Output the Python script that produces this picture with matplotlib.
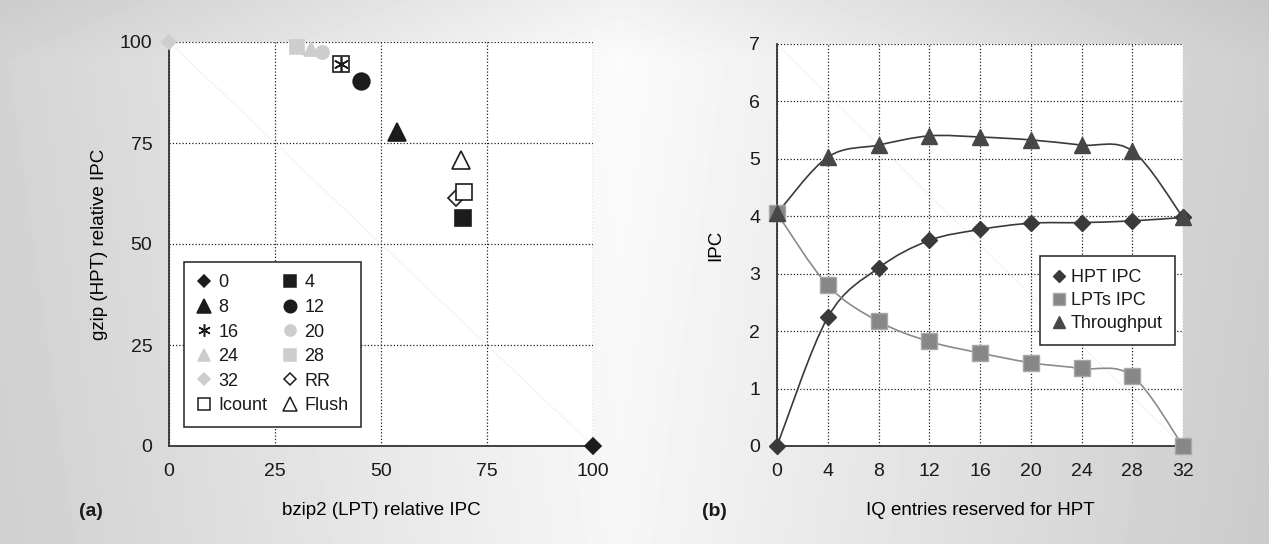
import numpy as np
import matplotlib
matplotlib.use('Agg')
import matplotlib.pyplot as plt
from matplotlib.lines import Line2D
from matplotlib.path import Path
from matplotlib.patches import PathPatch

# (a) relative IPC of bzip2 (LPT) and gzip (HPT) for each policy
policies = ['0', '4', '8', '12', '16', '20', '24', '28', '32', 'RR', 'Icount', 'Flush']
lpt_rel = [100, 69.4, 53.8, 45.2, 40.5, 36.2, 33.5, 30.1, 0, 67.8, 69.6, 68.8]
hpt_rel = [0, 56.5, 77.8, 90.3, 94.6, 97.6, 98.2, 98.7, 100, 61.4, 62.9, 70.7]
rel_ticks = [0, 25, 50, 75, 100]

# (b) IPC vs IQ entries reserved for HPT
iq_entries = [0, 4, 8, 12, 16, 20, 24, 28, 32]
hpt_ipc = [0, 2.24, 3.10, 3.58, 3.77, 3.88, 3.89, 3.92, 3.98]
lpt_ipc = [4.05, 2.80, 2.17, 1.82, 1.62, 1.45, 1.35, 1.22, 0]
throughput = [4.05, 5.03, 5.24, 5.40, 5.38, 5.33, 5.24, 5.14, 3.98]
ipc_ticks = [0, 1, 2, 3, 4, 5, 6, 7]

BLK = '#1c1c1c'
LGR = '#cdcdcd'
# marker, face, edge, size (plot), size (legend)
styles = {
    '0': ('D', BLK, BLK, 8.5, 6.5),
    '4': ('s', BLK, BLK, 12, 9),
    '8': ('^', BLK, BLK, 12.5, 9.5),
    '12': ('o', BLK, BLK, 12, 9),
    '16': ((6, 2, 0), BLK, BLK, 11, 9),
    '20': ('o', LGR, LGR, 9.5, 8),
    '24': ('^', LGR, LGR, 10, 9),
    '28': ('s', LGR, LGR, 10, 8.5),
    '32': ('D', LGR, LGR, 7, 6.5),
    'RR': ('D', 'white', BLK, 8, 6.5),
    'Icount': ('s', 'white', BLK, 12, 9),
    'Flush': ('^', 'white', BLK, 12.5, 9.5),
}


def smooth_path(xs, ys):
    # excel-like smoothed line (catmull-rom as cubic bezier)
    pts = np.column_stack([xs, ys]).astype(float)
    ext = np.vstack([pts[0], pts, pts[-1]])
    verts = [pts[0]]
    codes = [Path.MOVETO]
    for i in range(len(pts) - 1):
        p0, p1, p2, p3 = ext[i], ext[i + 1], ext[i + 2], ext[i + 3]
        verts += [p1 + (p2 - p0) / 6, p2 - (p3 - p1) / 6, p2]
        codes += [Path.CURVE4] * 3
    return Path(verts, codes)


plt.rcParams['font.family'] = ['Liberation Sans', 'DejaVu Sans']
plt.rcParams['text.color'] = '#1a1a1a'
plt.rcParams['xtick.color'] = '#1a1a1a'
plt.rcParams['ytick.color'] = '#1a1a1a'

fig = plt.figure(figsize=(12.69, 5.44), dpi=100)

# background gradient
bg = fig.add_axes([0, 0, 1, 1], zorder=-10)
cols = np.interp(np.arange(1269), [0, 620, 1269], [0.83, 0.985, 0.81])
rows = np.interp(np.arange(544), [0, 60, 544], [0.96, 1.0, 0.98])
grad = np.clip(np.outer(rows, cols), 0, 1)
bg.imshow(grad, cmap='gray', vmin=0, vmax=1, aspect='auto', extent=[0, 1, 0, 1])
bg.axis('off')


def style_axes(ax):
    ax.set_facecolor('white')
    for s in ['top', 'right']:
        ax.spines[s].set_visible(False)
    for s in ['left', 'bottom']:
        ax.spines[s].set_color('#333333')
        ax.spines[s].set_linewidth(1.3)
    ax.grid(True, linestyle=(0, (1, 1.6)), color='#222222', linewidth=0.9)
    ax.set_axisbelow(True)
    ax.tick_params(length=0, labelsize=14)
    ax.tick_params(axis='x', pad=12)
    ax.tick_params(axis='y', pad=12)
    ax.plot([0, 1], [1, 0], transform=ax.transAxes, color='#f3f3f3', lw=0.8, zorder=0)


# ---- (a)
ax1 = fig.add_axes([169 / 1269, 98 / 544, 424 / 1269, 404 / 544])
style_axes(ax1)
ax1.set_xlim(0, 100)
ax1.set_ylim(0, 100)
ax1.set_xticks(rel_ticks)
ax1.set_yticks(rel_ticks)

handles = {}
for name, x, y in zip(policies, lpt_rel, hpt_rel):
    mk, fc, ec, ms, lms = styles[name]
    ax1.plot(x, y, marker=mk, markerfacecolor=fc, markeredgecolor=ec, markersize=ms,
             markeredgewidth=1.2, linestyle='none', clip_on=False, zorder=5)
    handles[name] = Line2D([], [], marker=mk, markerfacecolor=fc, markeredgecolor=ec,
                           markersize=lms, markeredgewidth=1.1, linestyle='none')
# box drawn around the 16-entry point
i16 = policies.index('16')
ax1.plot(lpt_rel[i16], hpt_rel[i16], marker='s', markerfacecolor='none',
         markeredgecolor=BLK, markersize=12, markeredgewidth=1.2, linestyle='none', zorder=5)

order = ['0', '8', '16', '24', '32', 'Icount', '4', '12', '20', '28', 'RR', 'Flush']
leg1 = ax1.legend([handles[k] for k in order], order, ncol=2, loc='lower left',
                  bbox_to_anchor=(0.035, 0.047), borderaxespad=0, fontsize=13,
                  frameon=True, fancybox=False, edgecolor='#222222', framealpha=1,
                  handlelength=0.8, handletextpad=0.4, columnspacing=0.85,
                  labelspacing=0.42, borderpad=0.7)
leg1.get_frame().set_linewidth(1.1)
leg1.set_zorder(6)

ax1.set_xlabel('bzip2 (LPT) relative IPC', fontsize=13.5, va='center')
ax1.xaxis.set_label_coords(0.5, -0.16)
ax1.set_ylabel('gzip (HPT) relative IPC', fontsize=13.5, va='center')
ax1.yaxis.set_label_coords(-0.163, 0.5)

# ---- (b)
ax2 = fig.add_axes([777 / 1269, 98 / 544, 406 / 1269, 402 / 544])
style_axes(ax2)
ax2.set_xlim(0, 32)
ax2.set_ylim(0, 7)
ax2.set_xticks(iq_entries)
ax2.set_yticks(ipc_ticks)

series = [
    ('HPT IPC', hpt_ipc, 'D', '#3a3a3a', '#3a3a3a', '#3a3a3a', 8),
    ('LPTs IPC', lpt_ipc, 's', '#878787', '#a8a8a8', '#8a8a8a', 11.3),
    ('Throughput', throughput, '^', '#474747', '#474747', '#3a3a3a', 11.5),
]
leg_h = []
for label, vals, mk, fc, ec, lc, ms in series:
    ax2.add_patch(PathPatch(smooth_path(iq_entries, vals), facecolor='none',
                            edgecolor=lc, lw=1.2, zorder=3))
    ax2.plot(iq_entries, vals, marker=mk, markerfacecolor=fc, markeredgecolor=ec,
             markersize=ms, markeredgewidth=1, linestyle='none', clip_on=False, zorder=4)
    leg_h.append(Line2D([], [], marker=mk, markerfacecolor=fc, markeredgecolor=ec,
                        markersize=ms * 0.75, linestyle='none'))

leg2 = ax2.legend(leg_h, [s[0] for s in series], loc='lower left',
                  bbox_to_anchor=(0.648, 0.251), borderaxespad=0, fontsize=13,
                  frameon=True, fancybox=False, edgecolor='#222222', framealpha=1,
                  handlelength=0.7, handletextpad=0.3, labelspacing=0.35, borderpad=0.7)
leg2.get_frame().set_linewidth(1.1)

ax2.set_xlabel('IQ entries reserved for HPT', fontsize=13.5, va='center')
ax2.xaxis.set_label_coords(0.5, -0.161)
ax2.set_ylabel('IPC', fontsize=13.5, va='center')
ax2.yaxis.set_label_coords(-0.152, 0.5)

fig.text(91 / 1269, 1 - 512 / 544, '(a)', fontsize=14, fontweight='bold', ha='center', va='center')
fig.text(714 / 1269, 1 - 512 / 544, '(b)', fontsize=14, fontweight='bold', ha='center', va='center')

fig.savefig('out.png', dpi=100)
